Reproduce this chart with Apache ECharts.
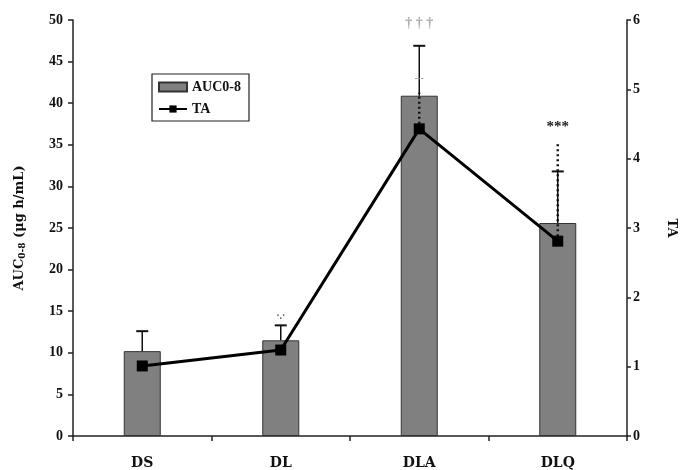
<!DOCTYPE html>
<html><head><meta charset="utf-8">
<script src="https://cdn.jsdelivr.net/npm/echarts@6/dist/echarts.min.js"></script>
<style>html,body{margin:0;padding:0;background:#fff}#c{width:693px;height:470px}</style>
</head><body><div id="c"></div>
<script>
const categories = ['DS', 'DL', 'DLA', 'DLQ'];
const aucValues = [10.2, 11.5, 40.9, 25.6];
const aucErrUpper = [12.6, 13.3, 46.9, 31.8];
const taValues = [1.01, 1.24, 4.43, 2.81];
const taErrUpper = [null, null, 4.95, 4.24];
const leftTicks = [0, 5, 10, 15, 20, 25, 30, 35, 40, 45, 50];
const rightTicks = [0, 1, 2, 3, 4, 5, 6];
const annotations = [
  {cat: 'DL', y: 14.4, text: '·.·', color: '#555', size: 10},
  {cat: 'DLA', y: 43.0, text: '-·-', color: '#777', size: 9},
  {cat: 'DLA', y: 49.6, text: '† † †', color: '#aaa', size: 14},
  {cat: 'DLQ', y: 37.1, text: '***', color: '#222', size: 15}
];

const FONT = '"Liberation Serif", "DejaVu Serif", serif';
const FONT2 = '"DejaVu Serif", "Liberation Serif", serif';
const chart = echarts.init(document.getElementById('c'), null, {renderer: 'canvas'});

function errRender(color, dashed, capW) {
  return function (params, api) {
    const i = api.value(0);
    const lo = api.coord([i, api.value(1)]);
    const hi = api.coord([i, api.value(2)]);
    const children = [{
      type: 'line',
      shape: {x1: lo[0], y1: lo[1], x2: hi[0], y2: hi[1]},
      style: {stroke: color, lineWidth: dashed ? 2.5 : 1.5, lineDash: dashed ? [2, 3] : null}
    }];
    if (capW) children.push({
      type: 'line',
      shape: {x1: hi[0] - capW / 2, y1: hi[1], x2: hi[0] + capW / 2, y2: hi[1]},
      style: {stroke: color, lineWidth: 2}
    });
    return {type: 'group', children};
  };
}

const aucErrData = categories.map((c, i) => [i, aucValues[i], aucErrUpper[i]]);
const taErrData = [];
categories.forEach((c, i) => { if (taErrUpper[i] != null) taErrData.push([i, taValues[i], taErrUpper[i]]); });

chart.setOption({
  animation: false,
  backgroundColor: '#fff',
  grid: {left: 73, right: 66, top: 20, bottom: 34},
  legend: {
    orient: 'vertical', left: 152, top: 74,
    padding: [6, 8, 5, 6], itemGap: 8,
    borderColor: '#222', borderWidth: 1.2,
    itemWidth: 28, itemHeight: 9,
    textStyle: {fontFamily: FONT, fontWeight: 'bold', fontSize: 14, color: '#111', padding: [0, 0, 0, 0]},
    data: [{name: 'AUC0-8', icon: 'rect'}, {name: 'TA'}]
  },
  xAxis: {
    type: 'category', data: categories,
    axisLine: {lineStyle: {color: '#222', width: 1.5}},
    axisTick: {show: true, length: 5, lineStyle: {color: '#222', width: 1.5}},
    axisLabel: {fontFamily: FONT2, fontWeight: 'bold', fontSize: 14, color: '#111', margin: 20}
  },
  yAxis: [{
    type: 'value', min: 0, max: 50, interval: 5,
    name: 'AUC{sub|0-8} (μg h/mL)', nameLocation: 'middle', nameGap: 46, nameRotate: 90,
    nameTextStyle: {fontFamily: FONT2, fontWeight: 'bold', fontSize: 13, color: '#111',
      rich: {sub: {fontFamily: FONT2, fontWeight: 'bold', fontSize: 9, color: '#111', verticalAlign: 'bottom', padding: [5, 0, 0, 0]}}},
    axisLine: {show: true, lineStyle: {color: '#222', width: 1.5}},
    axisTick: {show: true, length: 5, lineStyle: {color: '#222', width: 1.5}},
    splitLine: {show: false},
    axisLabel: {fontFamily: FONT, fontWeight: 'bold', fontSize: 14, color: '#111', margin: 10}
  }, {
    type: 'value', min: 0, max: 6, interval: 1, position: 'right',
    name: 'TA', nameLocation: 'middle', nameGap: 38, nameRotate: -90,
    nameTextStyle: {fontFamily: FONT2, fontWeight: 'bold', fontSize: 13, color: '#111'},
    axisLine: {show: true, lineStyle: {color: '#222', width: 1.5}},
    axisTick: {show: true, length: 4, lineStyle: {color: '#222', width: 1.5}},
    splitLine: {show: false},
    axisLabel: {fontFamily: FONT, fontWeight: 'bold', fontSize: 14, color: '#111', margin: 6}
  }],
  series: [{
    name: 'AUC0-8', type: 'bar', data: aucValues, barWidth: 37, yAxisIndex: 0, z: 2,
    itemStyle: {color: '#808080', borderColor: '#333', borderWidth: 1}
  }, {
    type: 'custom', yAxisIndex: 0, z: 3, data: aucErrData,
    renderItem: errRender('#111', false, 12), silent: true
  }, {
    type: 'custom', yAxisIndex: 1, z: 3, data: taErrData,
    renderItem: errRender('#111', true, 0), silent: true
  }, {
    name: 'TA', type: 'line', data: taValues, yAxisIndex: 1, z: 5,
    symbol: 'rect', symbolSize: 11,
    lineStyle: {color: '#000', width: 3},
    itemStyle: {color: '#000'}
  }, {
    type: 'custom', yAxisIndex: 0, z: 6, silent: true,
    data: annotations.map(a => [categories.indexOf(a.cat), a.y]),
    renderItem: function (params, api) {
      const a = annotations[params.dataIndex];
      const p = api.coord([api.value(0), api.value(1)]);
      return {type: 'text', x: p[0], y: p[1], style: {text: a.text, fill: a.color,
        font: 'bold ' + a.size + 'px ' + FONT, align: 'center', verticalAlign: 'middle'}};
    }
  }]
});
</script></body></html>
